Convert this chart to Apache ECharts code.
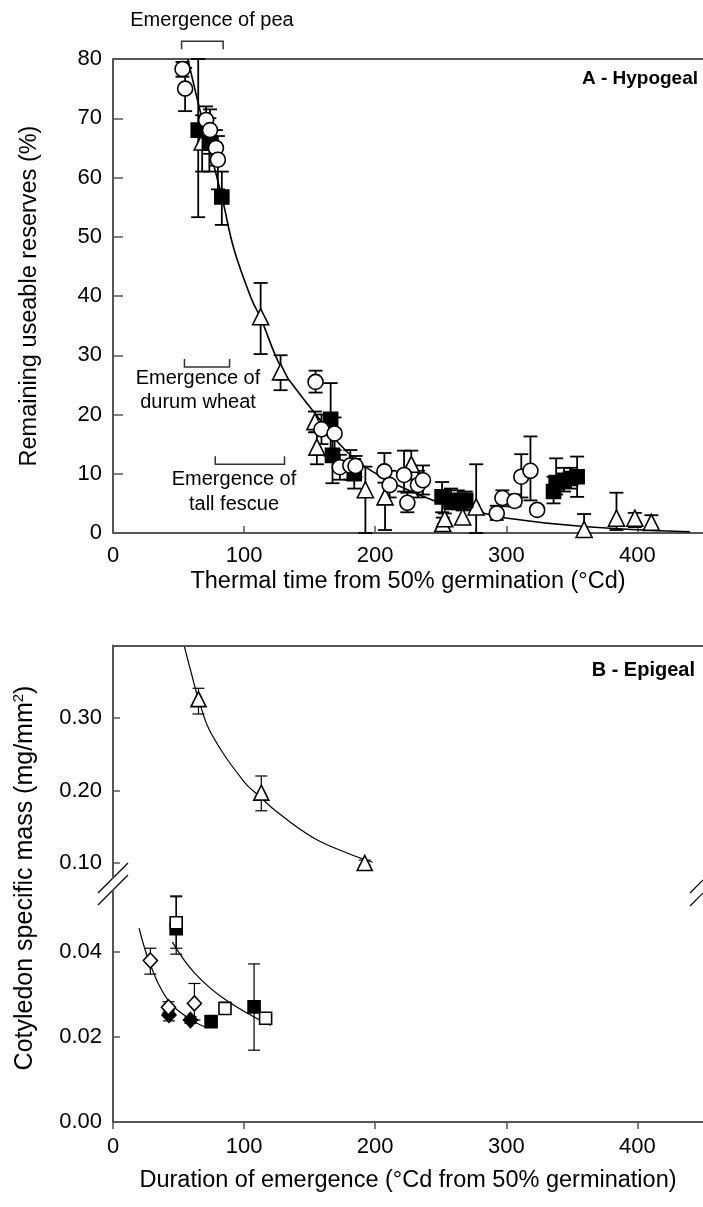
<!DOCTYPE html>
<html>
<head>
<meta charset="utf-8">
<script src="https://cdn.jsdelivr.net/npm/echarts@6/dist/echarts.min.js"></script>
<style>
  html, body { margin: 0; padding: 0; background: #fff; }
  #main { width: 703px; height: 1207px; }
</style>
</head>
<body>
<div id="main"></div>
<script>
// ---- Panel A (hypogeal): [thermal time, reserves %, error low, error high]
const peaCircles = [
  [53, 78.3, 77, 79.5], [55, 75, 71.2, 78.5], [71, 69.7, 66, 72], [74, 68, 64, 71.5],
  [78.5, 65, 62, 68], [80, 63, 58, 67], [154.5, 25.5, 23.7, 27.4], [159, 17.5, 15, 20],
  [169, 16.8, 14, 19.5], [173, 11.1, 9, 13.2], [181, 11.4, 9, 14], [185, 11.3, 9.5, 13],
  [207, 10.4, 8.5, 13.5], [211, 8.1, 6, 10.5], [222, 9.8, 7, 13.9], [224.5, 5.1, 3.5, 6.8],
  [232.6, 8.1, 6, 10.5], [236.4, 8.9, 6.5, 11.4], [292.7, 3.3, 2.2, 4.6], [297, 5.9, 4.5, 7.2],
  [306.3, 5.4, 4.5, 6.5], [311.4, 9.5, 6, 13.3], [318.4, 10.5, 5.5, 16.3], [323.5, 3.9, 3.2, 4.6]
];
const wheatSquares = [
  [65, 68, 53.3, 80], [73.5, 65.8, 61, 70], [83, 56.7, 52, 61], [166, 19.2, 13, 25.3],
  [167.4, 13.1, 8.4, 16.5], [184, 10.0, 7.5, 12.5], [251, 6.1, 3.5, 8.6], [257.8, 5.3, 4, 7.5],
  [263, 5.5, 4, 7.2], [269, 5.5, 4, 7], [336, 7.0, 5.0, 9.5], [338, 8.5, 6.5, 12.6],
  [344, 8.9, 7, 11], [349, 9.2, 7.5, 11], [354, 9.5, 6.1, 12.9]
];
const fescueTriangles = [
  [68, 66, 61, 70.5], [112.6, 36.5, 30.2, 42.2], [127.8, 27.2, 24.1, 30.0], [154, 18.8, 17, 20.5],
  [155.5, 14.5, 11.6, 17], [192.5, 7.3, 0, 11.2], [207.5, 6.1, 0.5, 10], [227.5, 11.6, 9, 13.9],
  [251.5, 1.6, 0.5, 2.6], [253, 2.4, 1.5, 3.3], [266.7, 2.7, 1.5, 3.8], [277, 4.4, 0, 11.6],
  [359.3, 0.6, 0, 3.2], [384, 2.5, 0.5, 6.8], [398, 2.5, 1, 3.4], [410.6, 1.8, 0.8, 3.0]
];
const fitA = [
  [57, 80], [70, 68], [83.6, 56.2], [92.4, 47.8], [106, 39.3], [112.6, 36.3], [127.8, 28.1],
  [142, 23.6], [159, 18.8], [167, 16.4], [192, 11.2], [243, 5.6], [275, 3.8], [301, 2.5],
  [359, 1.1], [440, 0.2]
];
// emergence brackets: [from, to, level, legs direction (1 = up, -1 = down)]
const emergenceRanges = [
  [52.3, 84, 83.0, -1],
  [54.5, 88.9, 28.0, 1],
  [78, 130.8, 11.6, 1]
];

// ---- Panel B (epigeal): [duration, specific mass, error low, error high]
const upperTriangles = [[65.2, 0.326, 0.3055, 0.341], [113.1, 0.197, 0.172, 0.22], [192, 0.10, 0.097, 0.104]];
const openDiamonds = [[28.5, 0.038, 0.0348, 0.0409], [42.3, 0.027, 0.0258, 0.0283], [62.1, 0.0279, 0.024, 0.0326]];
const filledDiamonds = [[42.7, 0.0252, 0.0238, 0.0262], [59.1, 0.024, 0.0232, 0.0248]];
const openSquares = [[48.2, 0.0469, 0.0409, 0.0532], [85.4, 0.0267, 0.0258, 0.0282], [116.4, 0.0244, 0.0238, 0.025]];
const filledSquares = [[48.2, 0.0455, 0.0395, 0.053], [74.8, 0.0236, 0.0229, 0.0251], [107.6, 0.0271, 0.0169, 0.0372]];
const fitUpper = [[54.5, 0.398], [60, 0.36], [65.2, 0.326], [74.8, 0.279], [100, 0.212], [113, 0.19],
  [124, 0.172], [151.7, 0.136], [179.5, 0.113], [198, 0.101]];
const fitDiamonds = [[19.9, 0.0456], [28.5, 0.037], [41.9, 0.0287], [55.8, 0.0248], [69.7, 0.0224]];
const fitSquares = [[45.2, 0.0424], [62.1, 0.0351], [86.1, 0.0287], [120.2, 0.0227]];

const upperTicks = [0.1, 0.2, 0.3];
const lowerTicks = [0, 0.02, 0.04];

const FONT = 'Liberation Sans, Arial, sans-serif';
const AXIS_COLOR = '#555';

const chart = echarts.init(document.getElementById('main'));

// error bars drawn through the axes
function errorBars(data, axisIdx, lw, hw) {
  return {
    type: 'custom',
    xAxisIndex: axisIdx[0],
    yAxisIndex: axisIdx[1],
    data: data,
    z: 1,
    silent: true,
    encode: { x: 0, y: [1, 2, 3] },
    renderItem: function (params, api) {
      const lo = api.coord([api.value(0), api.value(2)]);
      const hi = api.coord([api.value(0), api.value(3)]);
      const st = { stroke: '#000', lineWidth: lw };
      return {
        type: 'group',
        children: [
          { type: 'line', shape: { x1: lo[0], y1: lo[1], x2: hi[0], y2: hi[1] }, style: st },
          { type: 'line', shape: { x1: lo[0] - hw, y1: lo[1], x2: lo[0] + hw, y2: lo[1] }, style: st },
          { type: 'line', shape: { x1: hi[0] - hw, y1: hi[1], x2: hi[0] + hw, y2: hi[1] }, style: st }
        ]
      };
    }
  };
}

function points(data, axisIdx, symbol, size, fill) {
  return {
    type: 'scatter',
    xAxisIndex: axisIdx[0],
    yAxisIndex: axisIdx[1],
    data: data.map(d => [d[0], d[1]]),
    symbol: symbol,
    symbolSize: size,
    z: 3,
    itemStyle: { color: fill, borderColor: '#000', borderWidth: 1.6, opacity: 1 }
  };
}

function fitLine(data, axisIdx, lw) {
  return {
    type: 'line',
    xAxisIndex: axisIdx[0],
    yAxisIndex: axisIdx[1],
    data: data,
    smooth: 0.4,
    showSymbol: false,
    z: 2,
    lineStyle: { color: '#000', width: lw }
  };
}

const brackets = {
  type: 'custom',
  xAxisIndex: 0,
  yAxisIndex: 0,
  data: emergenceRanges,
  clip: false,
  silent: true,
  renderItem: function (params, api) {
    const a = api.coord([api.value(0), api.value(2)]);
    const b = api.coord([api.value(1), api.value(2)]);
    const leg = -8 * api.value(3);
    return {
      type: 'polyline',
      shape: { points: [[a[0], a[1] + leg], a, b, [b[0], b[1] + leg]] },
      style: { stroke: '#333', lineWidth: 1.5, fill: null }
    };
  }
};

function axisBase(extra) {
  return Object.assign({
    type: 'value',
    min: 0,
    max: 450,
    interval: 100,
    splitLine: { show: false },
    axisLine: { lineStyle: { color: AXIS_COLOR, width: 2 } },
    axisTick: { lineStyle: { color: AXIS_COLOR, width: 1.5 } },
    axisLabel: { color: '#000', fontFamily: FONT, fontSize: 22 },
    nameTextStyle: { color: '#000', fontFamily: FONT, fontSize: 23.5 }
  }, extra);
}

const topLine = (gi) => ({
  type: 'value', gridIndex: gi, position: 'top', min: 0, max: 450,
  axisLine: { show: true, lineStyle: { color: AXIS_COLOR, width: 2 } },
  axisTick: { show: false }, axisLabel: { show: false }, splitLine: { show: false }
});

const option = {
  backgroundColor: '#fff',
  animation: false,
  grid: [
    { left: 113, top: 59, width: 594, height: 474 },
    { left: 113, top: 645.5, width: 594, height: 232.5 },
    { left: 113, top: 890, width: 594, height: 232 }
  ],
  xAxis: [
    axisBase({
      gridIndex: 0,
      axisTick: { inside: true, length: 7, lineStyle: { color: AXIS_COLOR, width: 1.5 } },
      axisLabel: { color: '#000', fontFamily: FONT, fontSize: 22, margin: 12, showMaxLabel: false },
      name: 'Thermal time from 50% germination (°Cd)',
      nameLocation: 'middle',
      nameGap: 37
    }),
    topLine(0),
    topLine(1),
    axisBase({
      gridIndex: 2,
      axisTick: { inside: false, length: 7, lineStyle: { color: AXIS_COLOR, width: 1.5 } },
      axisLabel: { color: '#000', fontFamily: FONT, fontSize: 22, margin: 14, showMaxLabel: false },
      name: 'Duration of emergence (°Cd from 50% germination)',
      nameLocation: 'middle',
      nameGap: 47
    })
  ],
  yAxis: [
    axisBase({
      gridIndex: 0, min: 0, max: 80, interval: 10,
      axisTick: { inside: true, length: 10, lineStyle: { color: AXIS_COLOR, width: 1.5 } },
      axisLabel: { color: '#000', fontFamily: FONT, fontSize: 22, margin: 11 },
      name: 'Remaining useable reserves (%)',
      nameLocation: 'middle',
      nameRotate: 90,
      nameGap: 71
    }),
    axisBase({
      gridIndex: 1, min: 0.0793, max: 0.4, interval: null,
      axisTick: { inside: true, length: 7, customValues: upperTicks, lineStyle: { color: AXIS_COLOR, width: 1.5 } },
      axisLabel: { color: '#000', fontFamily: FONT, fontSize: 22, margin: 11,
        customValues: upperTicks, formatter: v => v.toFixed(2) }
    }),
    axisBase({
      gridIndex: 2, min: 0, max: 0.0546, interval: null,
      axisTick: { inside: true, length: 7, customValues: lowerTicks, lineStyle: { color: AXIS_COLOR, width: 1.5 } },
      axisLabel: { color: '#000', fontFamily: FONT, fontSize: 22, margin: 11,
        customValues: lowerTicks, formatter: v => v.toFixed(2) }
    })
  ],
  graphic: [
    { type: 'text', x: 698, y: 79, style: { text: 'A - Hypogeal', font: 'bold 19px ' + FONT, fill: '#000', textAlign: 'right', textVerticalAlign: 'middle' } },
    { type: 'text', x: 695, y: 670, style: { text: 'B - Epigeal', font: 'bold 20px ' + FONT, fill: '#000', textAlign: 'right', textVerticalAlign: 'middle' } },
    { type: 'text', x: 212, y: 20, style: { text: 'Emergence of pea', font: '20px ' + FONT, fill: '#000', textAlign: 'center', textVerticalAlign: 'middle' } },
    { type: 'text', x: 198, y: 390, style: { text: 'Emergence of\ndurum wheat', font: '20px ' + FONT, lineHeight: 24, fill: '#000', textAlign: 'center', textVerticalAlign: 'middle' } },
    { type: 'text', x: 234, y: 492, style: { text: 'Emergence of\ntall fescue', font: '20px ' + FONT, lineHeight: 25, fill: '#000', textAlign: 'center', textVerticalAlign: 'middle' } },
    {
      type: 'text', x: 25, y: 878, rotation: Math.PI / 2,
      style: {
        text: 'Cotyledon specific mass (mg/mm{sup|2})',
        font: '25px ' + FONT, fill: '#000', textAlign: 'center', textVerticalAlign: 'middle',
        rich: { sup: { fontSize: 15, fontFamily: FONT, fill: '#000', padding: [0, 0, 12, 0] } }
      }
    },
    // axis break marks
    { type: 'line', shape: { x1: 98, y1: 893, x2: 128, y2: 863 }, style: { stroke: '#000', lineWidth: 1.2 } },
    { type: 'line', shape: { x1: 98, y1: 905, x2: 128, y2: 875 }, style: { stroke: '#000', lineWidth: 1.2 } },
    { type: 'line', shape: { x1: 690, y1: 893, x2: 716, y2: 867 }, style: { stroke: '#000', lineWidth: 1.2 } },
    { type: 'line', shape: { x1: 690, y1: 906, x2: 716, y2: 880 }, style: { stroke: '#000', lineWidth: 1.2 } }
  ],
  series: [
    brackets,
    fitLine(fitA, [0, 0], 1.6),
    errorBars(peaCircles, [0, 0], 1.8, 7),
    errorBars(wheatSquares, [0, 0], 1.8, 7),
    errorBars(fescueTriangles, [0, 0], 1.8, 7),
    points(fescueTriangles, [0, 0], 'triangle', 16, '#fff'),
    points(wheatSquares, [0, 0], 'rect', 14, '#000'),
    points(peaCircles, [0, 0], 'circle', 15, '#fff'),

    fitLine(fitUpper, [2, 1], 1.2),
    errorBars(upperTriangles, [2, 1], 1.2, 6),
    points(upperTriangles, [2, 1], 'triangle', 15, '#fff'),

    fitLine(fitDiamonds, [3, 2], 1.2),
    fitLine(fitSquares, [3, 2], 1.2),
    errorBars(openDiamonds, [3, 2], 1.2, 6),
    errorBars(filledDiamonds, [3, 2], 1.2, 6),
    errorBars(openSquares, [3, 2], 1.2, 6),
    errorBars(filledSquares, [3, 2], 1.2, 6),
    points(filledSquares, [3, 2], 'rect', 12, '#000'),
    points(openSquares, [3, 2], 'rect', 12, '#fff'),
    points(filledDiamonds, [3, 2], 'diamond', [14, 15], '#000'),
    points(openDiamonds, [3, 2], 'diamond', [14, 15], '#fff')
  ]
};

chart.setOption(option);
</script>
</body>
</html>
